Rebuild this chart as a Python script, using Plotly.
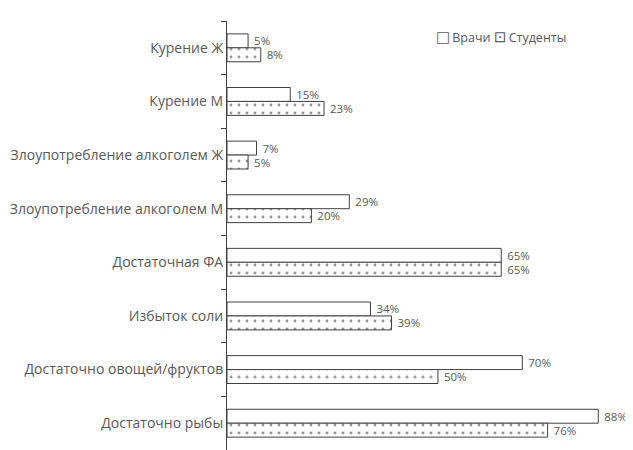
import plotly.graph_objects as go

categories = ["Курение Ж", "Курение М", "Злоупотребление алкоголем Ж",
              "Злоупотребление алкоголем М", "Достаточная ФА", "Избыток соли",
              "Достаточно овощей/фруктов", "Достаточно рыбы"]
doctors = [5, 15, 7, 29, 65, 34, 70, 88]
students = [8, 23, 5, 20, 65, 39, 50, 76]
series_names = ["Врачи", "Студенты"]

font_fam = "Open Sans"
txt_col = "#595959"

fig = go.Figure()
fig.add_trace(go.Bar(
    y=categories, x=doctors, orientation="h", name=series_names[0],
    marker=dict(color="white", line=dict(color="#404040", width=1)),
    texttemplate="\u00a0%{x}%", textposition="outside", constraintext="none",
    textfont=dict(color=txt_col, size=11.5, family=font_fam), cliponaxis=False))
fig.add_trace(go.Bar(
    y=categories, x=students, orientation="h", name=series_names[1],
    marker=dict(color="white", line=dict(color="#404040", width=1),
                pattern=dict(shape=".", size=8, solidity=0.1, fgcolor="#303030", bgcolor="white")),
    texttemplate="\u00a0%{x}%", textposition="outside", constraintext="none",
    textfont=dict(color=txt_col, size=11.5, family=font_fam), cliponaxis=False))

# legend drawn as text with box glyphs
fig.add_annotation(x=0.511, y=0.963, xref="paper", yref="paper", xanchor="left",
                   yanchor="middle", showarrow=False,
                   text="<span style='font-family:DejaVu Sans;font-size:15px'>\u25a1</span>\u2009" + series_names[0],
                   font=dict(size=12.5, color=txt_col, family=font_fam))
fig.add_annotation(x=0.655, y=0.963, xref="paper", yref="paper", xanchor="left",
                   yanchor="middle", showarrow=False,
                   text="<span style='font-family:DejaVu Sans;font-size:15px'>\u22a1</span>\u2009" + series_names[1],
                   font=dict(size=12.5, color=txt_col, family=font_fam))

fig.update_layout(
    width=625, height=442,
    margin=dict(l=219, r=1, t=13, b=0, autoexpand=False),
    paper_bgcolor="white", plot_bgcolor="white",
    barmode="group", bargap=0.48, bargroupgap=0,
    font=dict(family=font_fam, size=13, color=txt_col),
    showlegend=False,
    xaxis=dict(range=[0, 96], showgrid=False, showticklabels=False, zeroline=False,
               showline=False, ticks="", automargin=False),
    yaxis=dict(autorange="reversed", categoryorder="array", categoryarray=categories,
               showline=True, linecolor="#404040", linewidth=1, ticks="outside",
               tickson="boundaries", ticklen=5, tickcolor="#404040", showgrid=False,
               tickfont=dict(size=14, color=txt_col), ticklabelstandoff=0,
               automargin=False),
)

fig.write_html("out.html")
